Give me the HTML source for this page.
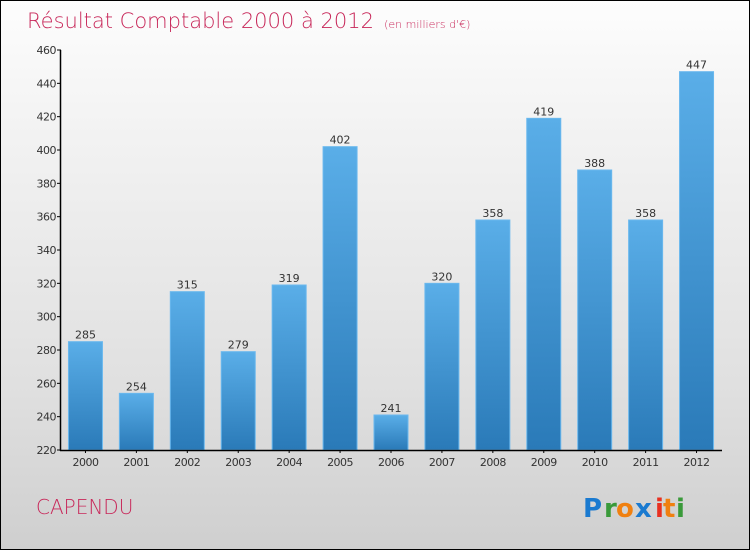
<!DOCTYPE html>
<html><head><meta charset="utf-8"><style>
body{margin:0;width:750px;height:550px;overflow:hidden}
#root{position:relative;width:748px;height:548px;border:1px solid #000;background:linear-gradient(#fdfdfd,#f4f4f4 20%,#e0e0e0 70%,#cfcfcf);font-family:"DejaVu Sans","Liberation Sans",sans-serif}
</style></head><body>
<div id="root">
<svg width="748" height="548" style="position:absolute;left:0;top:0">
<defs><linearGradient id="bg" x1="0" y1="0" x2="0" y2="1"><stop offset="0" stop-color="#5aaee8"/><stop offset="1" stop-color="#2a7ab8"/></linearGradient></defs>
<text x="26" y="27" font-size="21" fill="#c8285a" font-family="DejaVu Sans, sans-serif" font-weight="200">Résultat Comptable 2000 à 2012 <tspan font-size="11">&#160;(en milliers d'€)</tspan></text>
<g id="plot"></g>
<text x="35" y="513" font-size="20" fill="#c8285a" font-weight="200">CAPENDU</text>
<g font-size="26" font-weight="bold" font-family="DejaVu Sans, sans-serif">
<text x="582" y="516" fill="#1a7ad0">P</text><text x="603" y="516" fill="#3a9a3a">r</text><text x="615" y="516" fill="#f08010">o</text><text x="634" y="516" fill="#1a7ad0">x</text><text x="654" y="516" fill="#e83020">i</text><text x="662" y="516" fill="#f08010">t</text><text x="675" y="516" fill="#3a9a3a">i</text>
</g>
</svg>
</div>
<script>
const categories=["2000","2001","2002","2003","2004","2005","2006","2007","2008","2009","2010","2011","2012"];
const values=[285,254,315,279,319,402,241,320,358,419,388,358,447];
const yTicks=[220,240,260,280,300,320,340,360,380,400,420,440,460];
const NS="http://www.w3.org/2000/svg";
const g=document.getElementById("plot");
const x0=59,x1=721,yb=449,yt=49,ymin=220,ymax=460;
const step=(x1-x0)/categories.length;
const y=v=>yb-(v-ymin)/(ymax-ymin)*(yb-yt);
const xc=i=>x0+step*(i+0.5);
function el(t,a){const e=document.createElementNS(NS,t);for(const k in a)e.setAttribute(k,a[k]);g.appendChild(e);return e;}
yTicks.forEach(t=>{
const l=el("line",{x1:x0-3,x2:x0+1,y1:y(t),y2:y(t),stroke:"#000"});


const tx=el("text",{x:x0-4,y:y(t)+4,"font-size":11,"text-anchor":"end",fill:"#333","letter-spacing":"-0.5"});
tx.textContent=t;


});
values.forEach((v,i)=>{
const bw=34,bx=xc(i)-bw/2;
const r=el("rect",{x:bx,y:y(v),width:bw,height:yb-y(v),fill:"url(#bg)",stroke:"#6ab8ee","stroke-width":1});


const vt=el("text",{x:xc(i),y:y(v)-3,"font-size":11,"text-anchor":"middle",fill:"#333"});
vt.textContent=v;


const ct=el("text",{x:xc(i),y:yb+16,"font-size":11,"text-anchor":"middle",fill:"#333","letter-spacing":"-0.5"});
ct.textContent=categories[i];


const tk=el("line",{x1:xc(i),x2:xc(i),y1:yb,y2:yb+3,stroke:"#000"});


});
const ya=el("line",{x1:x0+0.5,x2:x0+0.5,y1:yt,y2:yb+1,stroke:"#000","stroke-width":1.5});


const xa=el("line",{x1:x0,x2:x1,y1:yb+0.5,y2:yb+0.5,stroke:"#000","stroke-width":1.5});


</script>
</body></html>
